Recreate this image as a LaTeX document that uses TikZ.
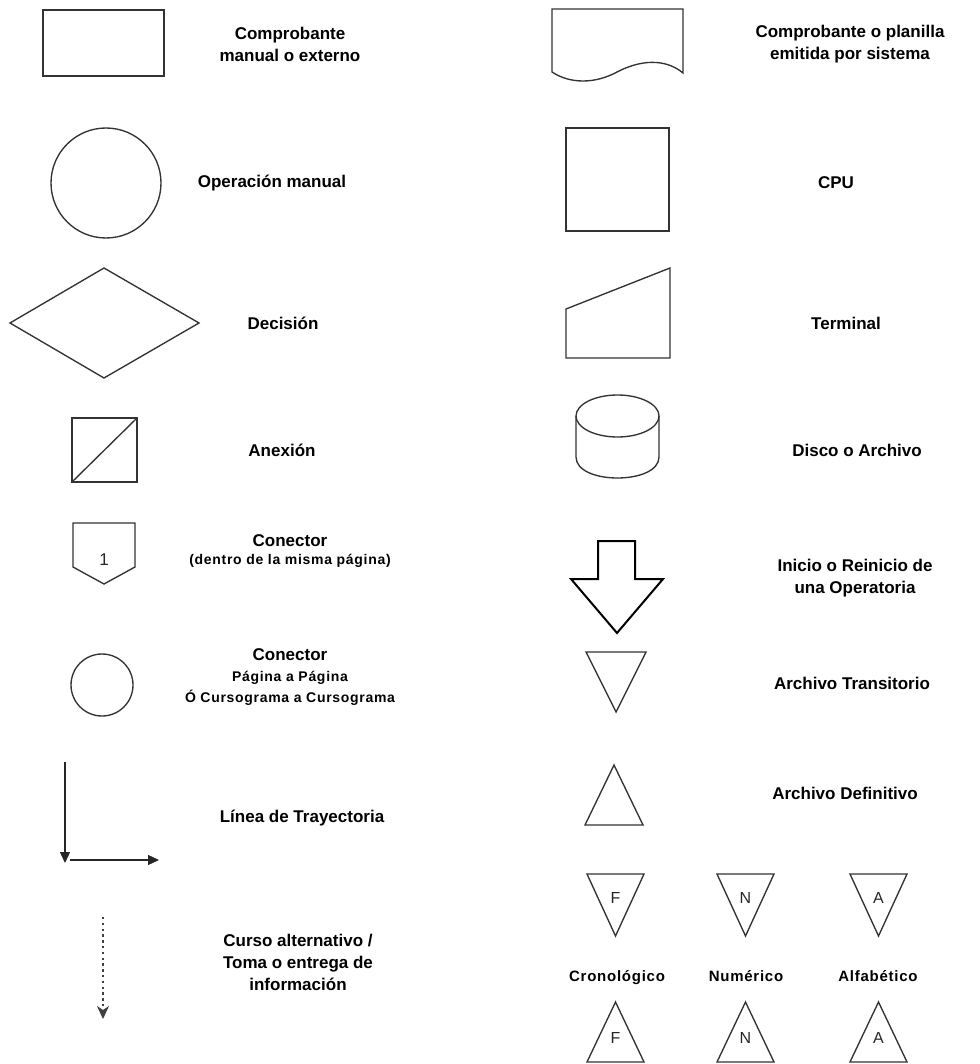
\documentclass[tikz,border=0pt]{standalone}
\usepackage{fontspec}
\setmainfont{Liberation Sans}
\usetikzlibrary{arrows.meta}
\begin{document}
\begin{tikzpicture}[x=1pt,y=-1pt,
  shp/.style={draw=black!80, line width=1.35pt, line join=miter},
  lbl/.style={font=\fontsize{17}{22}\selectfont\bfseries, align=center, inner sep=0pt},
  sub/.style={font=\fontsize{14}{21}\selectfont\bfseries\addfontfeatures{LetterSpace=5}, align=center, inner sep=0pt},
  cls/.style={font=\fontsize{15}{18}\selectfont\bfseries\addfontfeatures{LetterSpace=5}, inner sep=0pt, text height=11pt, text depth=3pt},
  let/.style={font=\fontsize{16}{18}\selectfont, inner sep=0pt, text=black!85},
  tip/.style={-{Triangle[length=11pt,width=10pt]}, draw=black!85, line width=1.35pt}
]
\useasboundingbox (0,0) rectangle (979,1064);

% Row 1
\node[shp, minimum width=121pt, minimum height=66pt, inner sep=0pt] (manual) at (103.5,43) {};
\node[lbl] (manualL) at (290,44) {Comprobante\\manual o externo};
\draw[shp] (552,9) coordinate (docA) -- (683,9) -- (683,73)
  .. controls (665,58) and (640,60) .. (617,72)
  .. controls (595,84) and (570,84) .. (552,72) -- cycle;
\node[lbl] (docL) at (850,44) {Comprobante o planilla\\emitida por sistema};

% Row 2
\node[shp, circle, minimum size=110pt, inner sep=0pt] (oper) at (106,183) {};
\node[lbl] (operL) at (272,183) {Operación manual};
\node[shp, minimum width=103pt, minimum height=103pt, inner sep=0pt] (cpu) at (617.5,179.5) {};
\node[lbl] (cpuL) at (836,183) {CPU};

% Row 3
\draw[shp] (10,323) coordinate (dec) -- (104,268) -- (199,323) -- (104,378) -- cycle;
\node[lbl] (decL) at (283,323) {Decisión};
\draw[shp] (566,358) coordinate (term) -- (566,309) -- (670,268) -- (670,358) -- cycle;
\node[lbl] (termL) at (846,323) {Terminal};

% Row 4
\draw[shp] (72,418) coordinate (anex) rectangle (137,482);
\draw[shp] (72,482) -- (137,418);
\node[lbl] (anexL) at (282,450) {Anexión};
\draw[shp] (617.5,416) coordinate (disk) ellipse [x radius=41.5, y radius=21];
\draw[shp] (576,416) -- (576,457) .. controls (576,485) and (659,485) .. (659,457) -- (659,416);
\node[lbl] (diskL) at (857,450) {Disco o Archivo};

% Row 5
\draw[shp] (73,523) coordinate (pent) -- (135,523) -- (135,567) -- (104,584) -- (73,567) -- cycle;
\node[let, font=\fontsize{17}{18}\selectfont] (one) at (104,560) {1};
\node[lbl] (con1L) at (290,541) {Conector};
\node[sub] (con1S) at (290,561) {(dentro de la misma página)};
\draw[draw=black, line width=2pt, line join=miter] (598,541) coordinate (bigarrow) -- (635,541) -- (635,579) -- (663,579) -- (617,633) -- (571,579) -- (598,579) -- cycle;
\node[lbl] (arrL) at (855,578) {Inicio o Reinicio de\\una Operatoria};

% Row 6
\node[shp, circle, minimum size=62pt, inner sep=0pt] (pagecon) at (102,685) {};
\node[lbl] (con2L) at (290,655) {Conector};
\node[sub] (con2S) at (290,688) {Página a Página\\Ó Cursograma a Cursograma};
\draw[shp] (586,652) coordinate (trans) -- (646,652) -- (616,712) -- cycle;
\node[lbl] (transL) at (852,683) {Archivo Transitorio};

% Row 7
\coordinate (t1) at (65,762);
\coordinate (t2) at (65,863);
\coordinate (t3) at (70,860);
\coordinate (t4) at (159,860);
\draw[tip] (t1) -- (t2);
\draw[tip] (t3) -- (t4);
\node[lbl] (trajL) at (302,818) {Línea de Trayectoria};
\draw[shp] (585,825) coordinate (defin) -- (643,825) -- (614,765) -- cycle;
\node[lbl] (definL) at (845,793) {Archivo Definitivo};

% Row 8
\coordinate (d1) at (103,917);
\coordinate (d2) at (103,1019);
\draw[draw=black!75, line width=2pt, dash pattern=on 2.4pt off 3.4pt, -{Stealth[length=13pt,width=12pt,inset=4pt]}] (d1) -- (d2);
\node[lbl] (altL) at (298,962) {Curso alternativo /\\Toma o entrega de\\información};

% Small triangles
\foreach \cx/\L/\nm in {615.5/F/f, 745.5/N/n, 878.5/A/a} {
  \draw[shp] (\cx-28.5,874) -- (\cx+28.5,874) -- (\cx,936) -- cycle;
  \node[let] (inv\nm) at (\cx,898) {\L};
  \draw[shp] (\cx-28.5,1062) -- (\cx+28.5,1062) -- (\cx,1002) -- cycle;
  \node[let] (up\nm) at (\cx,1038) {\L};
}
\node[cls] (cronoL) at (617,977) {Cronológico};
\node[cls] (numL) at (746,977) {Numérico};
\node[cls] (alfaL) at (878,977) {Alfabético};
\end{tikzpicture}
\end{document}
